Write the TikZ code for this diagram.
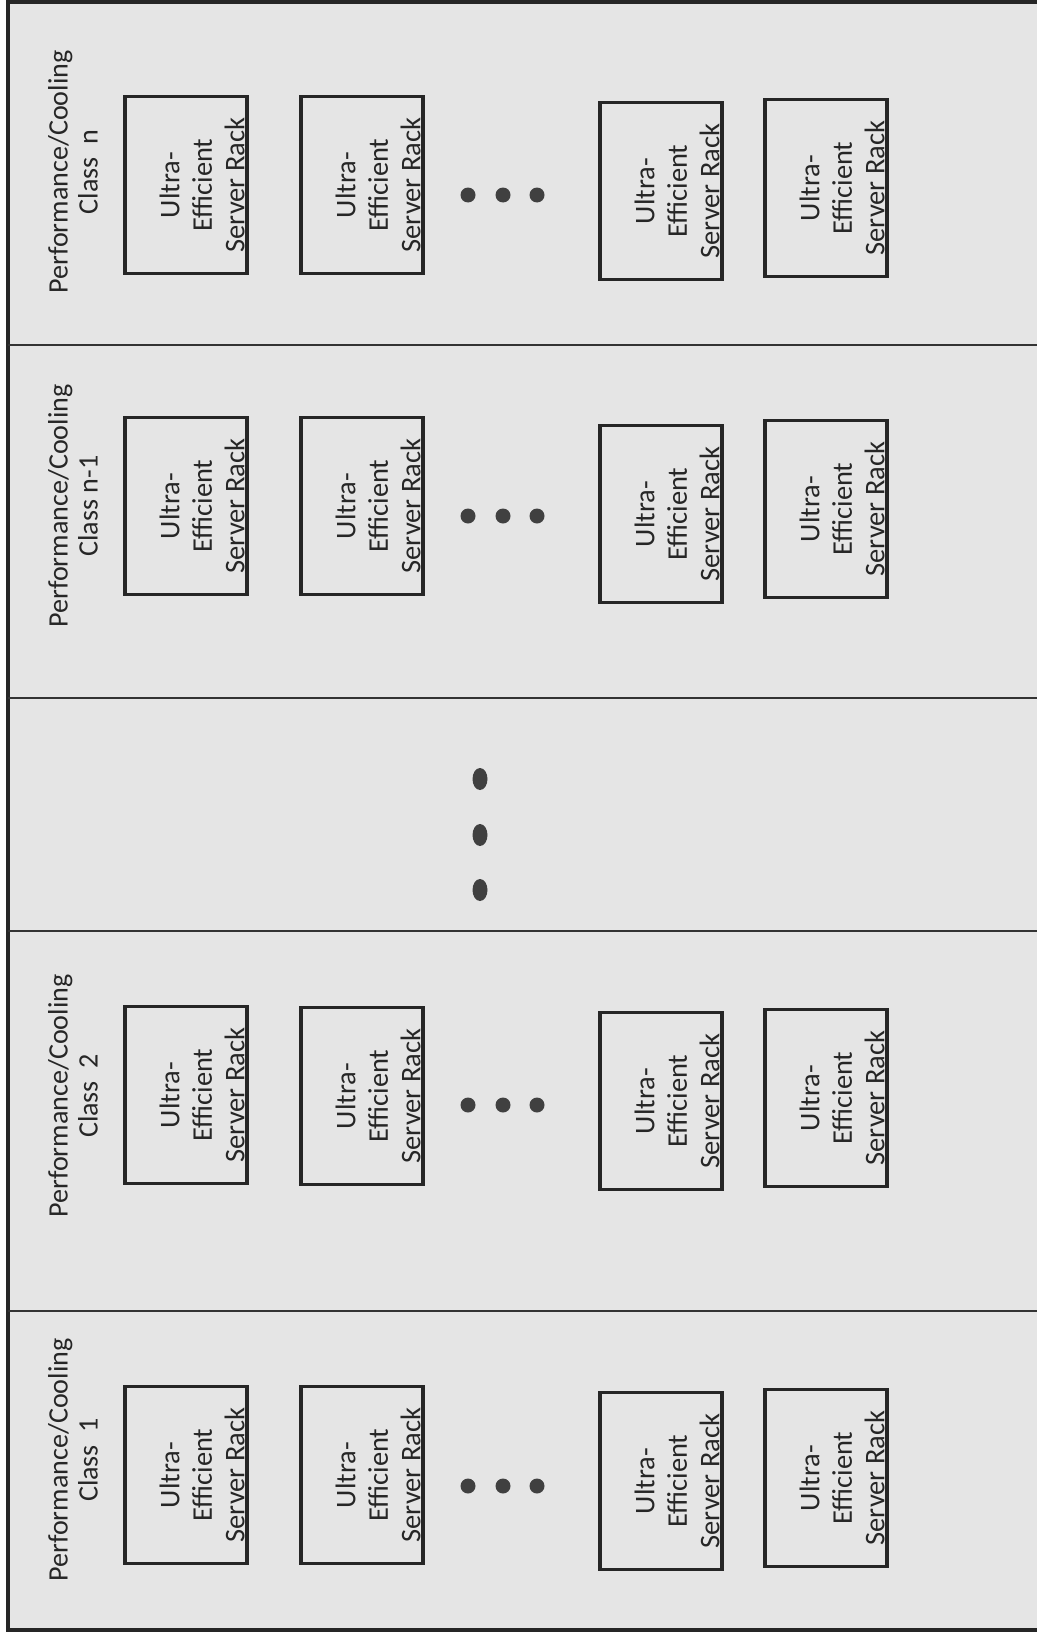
\documentclass[tikz,border=0pt]{standalone}
\usepackage{fontspec}
\setmainfont{Carlito}
\usetikzlibrary{calc}

\tikzset{
  rack/.style={draw=black!85, line width=2pt, minimum width=2.44cm, minimum height=3.54cm, inner sep=0pt},
  racktxt/.style={rotate=90, align=center, inner sep=0pt, text=black!85, font=\fontsize{16.2}{18.5}\selectfont},
  classlbl/.style={rotate=90, align=center, inner sep=0pt, text=black!85, font=\fontsize{16}{17}\selectfont},
  bandline/.style={draw=black!80, line width=0.8pt},
  bigdot/.style={fill=black!75}
}

\begin{document}
\begin{tikzpicture}[x=0.02cm, y=-0.02cm]
	\useasboundingbox (0,0) rectangle (1037,1636);

	% shaded floor and outer frame
	\fill[black!10] (8,2) rectangle (1037,1630);
	\draw[black!85, line width=2.3pt] (1037,2) -- (8,2) -- (8,1630) -- (1037,1630);

	% band borders
	\draw[bandline] (8,345) -- (1037,345);
	\draw[bandline] (8,698) -- (1037,698);
	\draw[bandline] (8,931) -- (1037,931);
	\draw[bandline] (8,1311) -- (1037,1311);

	% class n
	\node[classlbl] (lbln) at (73,172) {Performance/Cooling\\Class~ n};
	\node[rack] (rn1) at (186,185) {};
	\node[racktxt] (tn1) at ($(rn1)+(16,0)$) {Ultra-\\Efficient\\Server Rack};
	\node[rack] (rn2) at (362,185) {};
	\node[racktxt] (tn2) at ($(rn2)+(16,0)$) {Ultra-\\Efficient\\Server Rack};
	\node[rack] (rn3) at (661,191) {};
	\node[racktxt] (tn3) at ($(rn3)+(16,0)$) {Ultra-\\Efficient\\Server Rack};
	\node[rack] (rn4) at (826,188) {};
	\node[racktxt] (tn4) at ($(rn4)+(16,0)$) {Ultra-\\Efficient\\Server Rack};
	\fill[bigdot] (468,195) circle (0.15cm) (503,195) circle (0.15cm) (537,195) circle (0.15cm);

	% class n-1
	\node[classlbl] (lblm) at (73,506) {Performance/Cooling\\Class n-1};
	\node[rack] (rm1) at (186,506) {};
	\node[racktxt] (tm1) at ($(rm1)+(16,0)$) {Ultra-\\Efficient\\Server Rack};
	\node[rack] (rm2) at (362,506) {};
	\node[racktxt] (tm2) at ($(rm2)+(16,0)$) {Ultra-\\Efficient\\Server Rack};
	\node[rack] (rm3) at (661,514) {};
	\node[racktxt] (tm3) at ($(rm3)+(16,0)$) {Ultra-\\Efficient\\Server Rack};
	\node[rack] (rm4) at (826,509) {};
	\node[racktxt] (tm4) at ($(rm4)+(16,0)$) {Ultra-\\Efficient\\Server Rack};
	\fill[bigdot] (468,516) circle (0.15cm) (503,516) circle (0.15cm) (537,516) circle (0.15cm);

	% skipped classes
	\fill[bigdot] (480,779) ellipse (0.15cm and 0.22cm);
	\fill[bigdot] (480,835) ellipse (0.15cm and 0.22cm);
	\fill[bigdot] (480,890) ellipse (0.15cm and 0.22cm);

	% class 2
	\node[classlbl] (lblb) at (73,1096) {Performance/Cooling\\Class~ 2};
	\node[rack] (rb1) at (186,1095) {};
	\node[racktxt] (tb1) at ($(rb1)+(16,0)$) {Ultra-\\Efficient\\Server Rack};
	\node[rack] (rb2) at (362,1096) {};
	\node[racktxt] (tb2) at ($(rb2)+(16,0)$) {Ultra-\\Efficient\\Server Rack};
	\node[rack] (rb3) at (661,1101) {};
	\node[racktxt] (tb3) at ($(rb3)+(16,0)$) {Ultra-\\Efficient\\Server Rack};
	\node[rack] (rb4) at (826,1098) {};
	\node[racktxt] (tb4) at ($(rb4)+(16,0)$) {Ultra-\\Efficient\\Server Rack};
	\fill[bigdot] (468,1105) circle (0.15cm) (503,1105) circle (0.15cm) (537,1105) circle (0.15cm);

	% class 1
	\node[classlbl] (lbla) at (73,1460) {Performance/Cooling\\Class~ 1};
	\node[rack] (ra1) at (186,1475) {};
	\node[racktxt] (ta1) at ($(ra1)+(16,0)$) {Ultra-\\Efficient\\Server Rack};
	\node[rack] (ra2) at (362,1475) {};
	\node[racktxt] (ta2) at ($(ra2)+(16,0)$) {Ultra-\\Efficient\\Server Rack};
	\node[rack] (ra3) at (661,1481) {};
	\node[racktxt] (ta3) at ($(ra3)+(16,0)$) {Ultra-\\Efficient\\Server Rack};
	\node[rack] (ra4) at (826,1478) {};
	\node[racktxt] (ta4) at ($(ra4)+(16,0)$) {Ultra-\\Efficient\\Server Rack};
	\fill[bigdot] (468,1486) circle (0.15cm) (503,1486) circle (0.15cm) (537,1486) circle (0.15cm);
\end{tikzpicture}
\end{document}
